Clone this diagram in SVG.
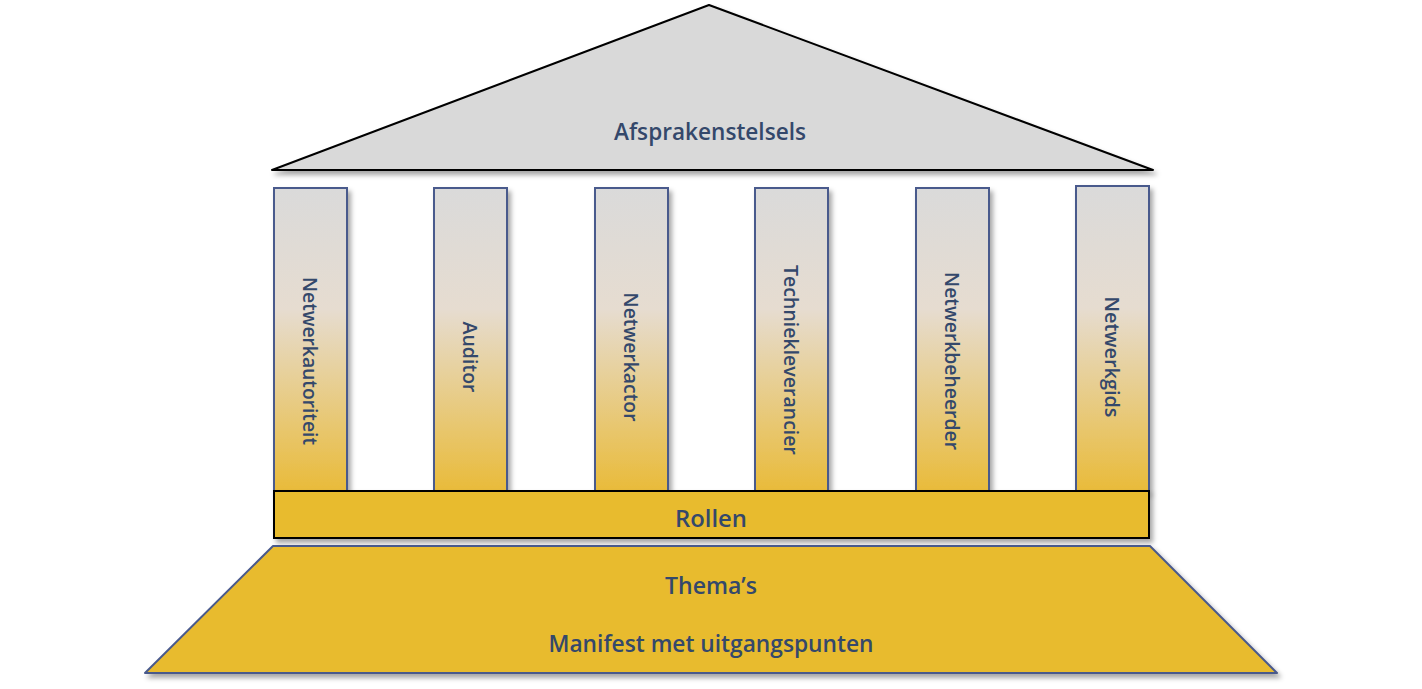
<svg xmlns="http://www.w3.org/2000/svg" width="1422" height="689" viewBox="0 0 1422 689">
<defs>
<linearGradient id="colGrad" x1="0" y1="0" x2="0" y2="1">
<stop offset="0" stop-color="#dadada"/>
<stop offset="0.4" stop-color="#e6dcd0"/>
<stop offset="1" stop-color="#e9bb3a"/>
</linearGradient>
<filter id="sh" x="-10%" y="-10%" width="130%" height="130%">
<feDropShadow dx="3" dy="4" stdDeviation="2.5" flood-color="#000" flood-opacity="0.35"/>
</filter>
</defs>
<style>
.t{font-family:"Open Sans","Liberation Sans",sans-serif;fill:#34486b;font-weight:600;text-anchor:middle;dominant-baseline:central}
.big{font-size:24px}
.col{font-size:19px}
.column{fill:url(#colGrad);stroke:#4a5a8c;stroke-width:2}
</style>
<rect width="1422" height="689" fill="#ffffff"/>
<g id="roof">
<polygon points="709,5 1153,170 272,170" fill="#d9d9d9" stroke="#000" stroke-width="2" stroke-linejoin="round" filter="url(#sh)"/>
<text class="t big" x="710" y="130" textLength="192" lengthAdjust="spacingAndGlyphs">Afsprakenstelsels</text>
</g>
<g id="col1">
<rect class="column" x="274" y="188" width="73" height="303" filter="url(#sh)"/>
<text class="t col" transform="translate(310,361) rotate(90)" textLength="168" lengthAdjust="spacingAndGlyphs">Netwerkautoriteit</text>
</g>
<g id="col2">
<rect class="column" x="434" y="188" width="73" height="303" filter="url(#sh)"/>
<text class="t col" transform="translate(470,357) rotate(90)" textLength="71" lengthAdjust="spacingAndGlyphs">Auditor</text>
</g>
<g id="col3">
<rect class="column" x="595" y="188" width="73" height="303" filter="url(#sh)"/>
<text class="t col" transform="translate(631,357) rotate(90)" textLength="129" lengthAdjust="spacingAndGlyphs">Netwerkactor</text>
</g>
<g id="col4">
<rect class="column" x="755" y="188" width="73" height="303" filter="url(#sh)"/>
<text class="t col" transform="translate(791,360) rotate(90)" textLength="190" lengthAdjust="spacingAndGlyphs">Techniekleverancier</text>
</g>
<g id="col5">
<rect class="column" x="916" y="188" width="73" height="303" filter="url(#sh)"/>
<text class="t col" transform="translate(952,361) rotate(90)" textLength="178" lengthAdjust="spacingAndGlyphs">Netwerkbeheerder</text>
</g>
<g id="col6">
<rect class="column" x="1076" y="186" width="73" height="305" filter="url(#sh)"/>
<text class="t col" transform="translate(1112,357) rotate(90)" textLength="121" lengthAdjust="spacingAndGlyphs">Netwerkgids</text>
</g>
<g id="rollen">
<rect x="274" y="491" width="875" height="47" fill="#e8bb2f" stroke="#000" stroke-width="2" filter="url(#sh)"/>
<text class="t big" x="711" y="517" textLength="72" lengthAdjust="spacingAndGlyphs">Rollen</text>
</g>
<g id="base">
<polygon points="273,546 1150,546 1277,673 145,673" fill="#e8bb2f" stroke="#4a5a8c" stroke-width="2" stroke-linejoin="round" filter="url(#sh)"/>
<text class="t big" x="711" y="584" textLength="92" lengthAdjust="spacingAndGlyphs">Thema’s</text>
<text class="t big" x="711" y="642" textLength="325" lengthAdjust="spacingAndGlyphs">Manifest met uitgangspunten</text>
</g>
<g id="connectors"/>
</svg>
